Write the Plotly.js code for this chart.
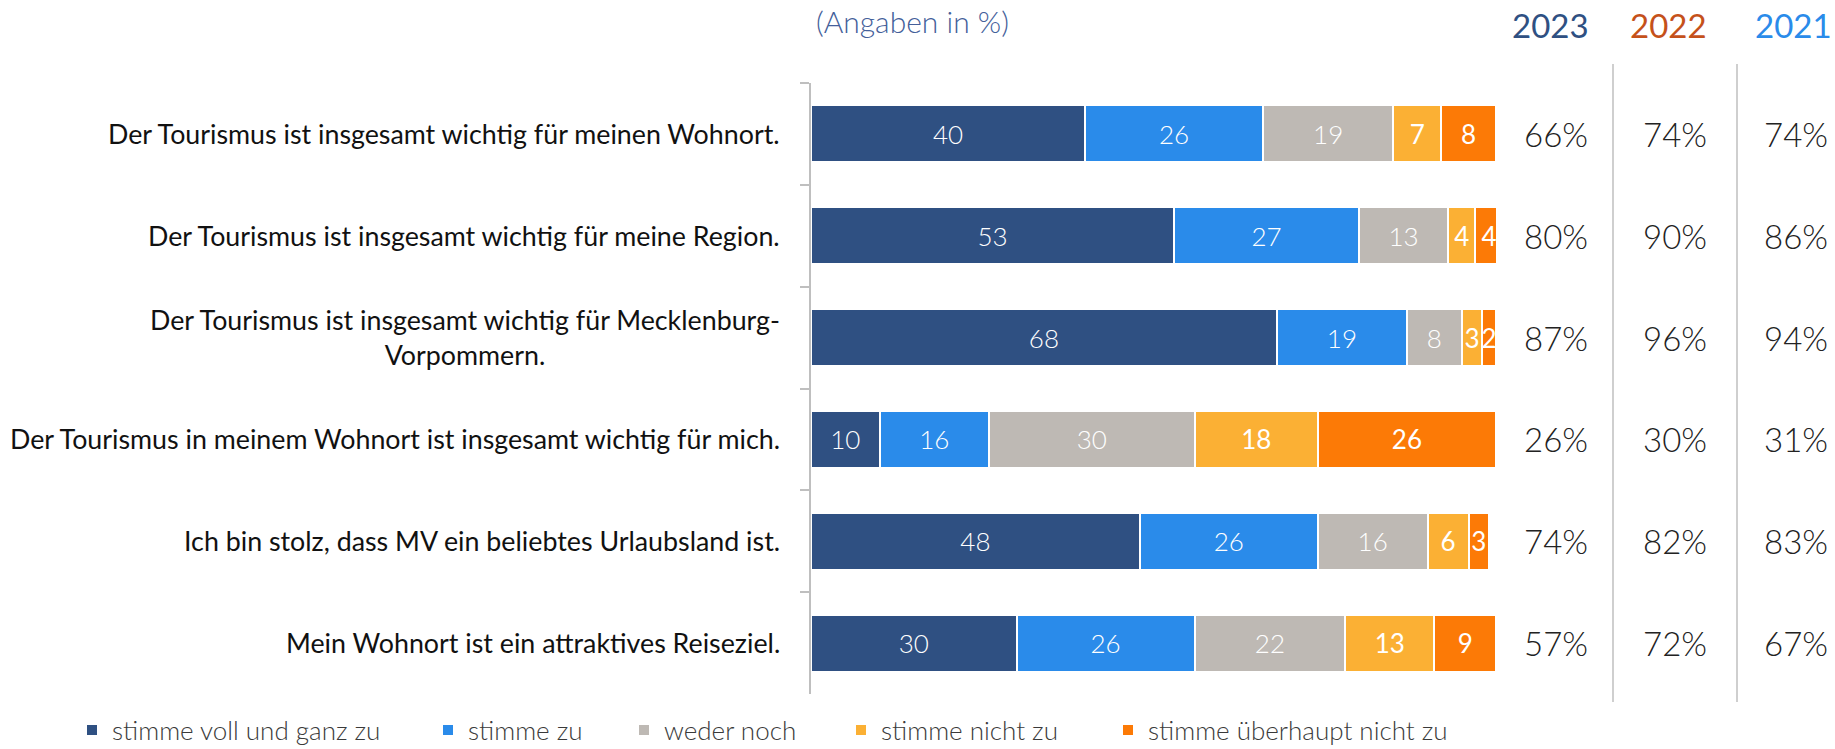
<!DOCTYPE html>
<html><head><meta charset="utf-8">
<script src="https://cdn.plot.ly/plotly-3.0.1.min.js"></script>
<style>html,body{margin:0;padding:0;background:#fff;}#chart{width:1835px;height:749px;}</style>
</head><body><div id="chart"></div>
<script>
const categories = [
  "Der Tourismus ist insgesamt wichtig für meinen Wohnort.",
  "Der Tourismus ist insgesamt wichtig für meine Region.",
  "Der Tourismus ist insgesamt wichtig für Mecklenburg-<br>Vorpommern.",
  "Der Tourismus in meinem Wohnort ist insgesamt wichtig für mich.",
  "Ich bin stolz, dass MV ein beliebtes Urlaubsland ist.",
  "Mein Wohnort ist ein attraktives Reiseziel."
];
const seriesNames = ["stimme voll und ganz zu", "stimme zu", "weder noch", "stimme nicht zu", "stimme überhaupt nicht zu"];
const vollUndGanz = [40, 53, 68, 10, 48, 30];
const stimmeZu = [26, 27, 19, 16, 26, 26];
const wederNoch = [19, 13, 8, 30, 16, 22];
const nichtZu = [7, 4, 3, 18, 6, 13];
const ueberhauptNicht = [8, 4, 2, 26, 3, 9];
const years = ["2023", "2022", "2021"];
const zustimmung2023 = [66, 80, 87, 26, 74, 57];
const zustimmung2022 = [74, 90, 96, 30, 82, 72];
const zustimmung2021 = [74, 86, 94, 31, 83, 67];
const subtitle = "(Angaben in %)";

// ---- styling / layout (pixel geometry) ----
const W = 1835, H = 749;
const L = 811, R = 1496, T = 83, B = 694;
const pw = R - L, ph = B - T;
const px = x => (x - L) / pw;
const py = y => (B - y) / ph;
const colors = ["#2F5082", "#2A8BEA", "#BEB9B4", "#FBB034", "#FC7A06"];
const yearColors = ["#2F5082", "#C5511A", "#2A8BEA"];
const seriesValues = [vollUndGanz, stimmeZu, wederNoch, nichtZu, ueberhauptNicht];
const FONT = "Lato, 'Open Sans', sans-serif";
const legendSymX = [86, 442, 638, 855, 1122];

const traces = seriesValues.map((vals, i) => ({
  type: "bar",
  orientation: "h",
  name: seriesNames[i],
  legend: i === 0 ? "legend" : "legend" + (i + 1),
  y: categories,
  x: vals,
  text: vals.map(String),
  textposition: "inside",
  insidetextanchor: "middle",
  textangle: 0,
  constraintext: "none",
  textfont: {family: FONT, size: 26, color: "#ffffff", weight: i >= 3 ? 400 : 300},
  marker: {color: colors[i], line: {color: "#ffffff", width: 2}},
  hoverinfo: "skip"
}));

const annotations = [];
categories.forEach(c => {
  annotations.push({
    xref: "paper", yref: "y", x: 0, y: c, xanchor: "right", yanchor: "middle",
    xshift: -29, text: c, align: "center", showarrow: false,
    font: {family: FONT, size: 26.8, color: "#111111"}
  });
});
const colX = [1556, 1675, 1796];
const yearX = [1550, 1668, 1793];
const zust = [zustimmung2023, zustimmung2022, zustimmung2021];
years.forEach((yr, k) => {
  annotations.push({
    xref: "paper", yref: "paper", x: px(yearX[k]), y: py(25), xanchor: "center", yanchor: "middle",
    text: yr, showarrow: false, font: {family: FONT, size: 33, color: yearColors[k]}
  });
  zust[k].forEach((v, j) => {
    annotations.push({
      xref: "paper", yref: "y", x: px(colX[k]), y: categories[j], xanchor: "center", yanchor: "middle",
      text: v + "%", showarrow: false, font: {family: FONT, size: 33, color: "#222222", weight: 300}
    });
  });
});
annotations.push({
  xref: "paper", yref: "paper", x: px(814), y: py(1), xanchor: "left", yanchor: "top",
  text: subtitle, showarrow: false, font: {family: FONT, size: 30, color: "#44609A", weight: 300}
});

const shapes = [1613, 1737].map(x => ({
  type: "line", xref: "paper", yref: "paper", x0: px(x), x1: px(x), y0: py(702), y1: py(64),
  line: {color: "#BFBFBF", width: 1.5}
}));

const layout = {
  width: W, height: H,
  margin: {l: L, r: W - R, t: T, b: H - B, pad: 0, autoexpand: false},
  paper_bgcolor: "#ffffff", plot_bgcolor: "#ffffff",
  barmode: "stack", bargap: 0.44,
  showlegend: true,
  uniformtext: {mode: "show", minsize: 26},
  xaxis: {range: [0, 100], showgrid: false, zeroline: false, showticklabels: false, showline: false, ticks: "", fixedrange: true},
  yaxis: {
    type: "category", autorange: "reversed", showgrid: false, zeroline: false,
    showticklabels: false, showline: true, linecolor: "#BFBFBF", linewidth: 2,
    ticks: "outside", tickson: "boundaries", ticklen: 9, tickcolor: "#BFBFBF", tickwidth: 2, fixedrange: true
  },
  annotations: annotations,
  shapes: shapes
};
legendSymX.forEach((sx, i) => {
  layout[i === 0 ? "legend" : "legend" + (i + 1)] = {
    orientation: "h", x: px(sx - 14), xanchor: "left", y: py(730), yanchor: "middle",
    font: {family: FONT, size: 26, color: "#3A3A3A", weight: 300},
    bgcolor: "rgba(0,0,0,0)", itemclick: false, itemdoubleclick: false
  };
});

Plotly.newPlot("chart", traces, layout, {displayModeBar: false, staticPlot: true});
</script>
</body></html>
